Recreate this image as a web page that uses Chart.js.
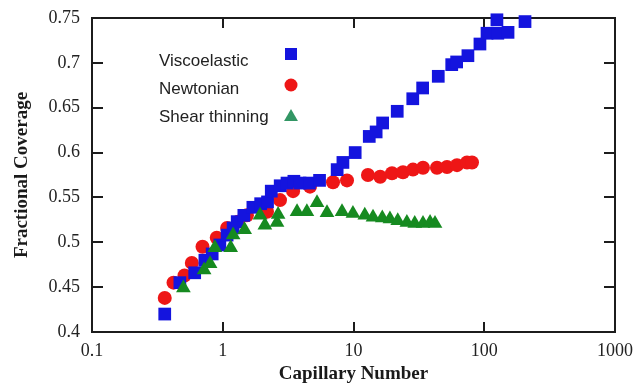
<!DOCTYPE html>
<html>
<head>
<meta charset="utf-8">
<script src="https://cdn.jsdelivr.net/npm/chart.js@4/dist/chart.umd.min.js"></script>
<style>
  html, body { margin: 0; padding: 0; background: #ffffff; }
  #wrap { width: 634px; height: 385px; }
</style>
</head>
<body>
<div id="wrap"><canvas id="c" width="634" height="385"></canvas></div>
<script>
// ---- data ----
const seriesNames = ['Viscoelastic', 'Newtonian', 'Shear thinning'];

const viscoCa  = [0.36, 0.47, 0.61, 0.73, 0.83, 0.95, 1.08, 1.2, 1.29, 1.45, 1.7, 1.95, 2.2, 2.35, 2.75, 3.1, 3.5, 3.9, 4.6, 5.5, 7.5, 8.3, 10.3, 13.2, 14.9, 16.7, 21.6, 28.4, 33.8, 44.5, 56.4, 61.5, 75, 92.7, 105, 127, 152, 125, 205];
const viscoCov = [0.42, 0.455, 0.466, 0.48, 0.487, 0.497, 0.508, 0.516, 0.523, 0.53, 0.539, 0.543, 0.545, 0.557, 0.563, 0.566, 0.568, 0.566, 0.566, 0.569, 0.581, 0.589, 0.6, 0.618, 0.623, 0.633, 0.646, 0.66, 0.672, 0.685, 0.698, 0.701, 0.708, 0.721, 0.733, 0.733, 0.734, 0.748, 0.746];

const newtCa  = [0.36, 0.42, 0.51, 0.58, 0.70, 0.90, 1.08, 1.31, 1.53, 2.18, 2.74, 3.45, 4.65, 6.97, 8.92, 12.9, 16.0, 19.7, 23.9, 28.5, 34.0, 43.5, 51.9, 61.9, 73.8, 80.6];
const newtCov = [0.438, 0.455, 0.463, 0.477, 0.495, 0.505, 0.516, 0.523, 0.53, 0.534, 0.547, 0.557, 0.562, 0.567, 0.569, 0.575, 0.573, 0.577, 0.578, 0.581, 0.583, 0.583, 0.584, 0.586, 0.589, 0.589];

const shearCa  = [0.50, 0.72, 0.80, 0.87, 1.15, 1.20, 1.47, 1.93, 2.10, 2.60, 2.65, 3.70, 4.40, 5.26, 6.27, 8.17, 9.9, 12.2, 14.1, 16.6, 19.0, 21.8, 25.6, 29.4, 34.0, 38.5, 42];
const shearCov = [0.449, 0.469, 0.476, 0.494, 0.494, 0.508, 0.514, 0.530, 0.519, 0.522, 0.531, 0.534, 0.534, 0.544, 0.533, 0.534, 0.532, 0.530, 0.528, 0.527, 0.526, 0.524, 0.522, 0.521, 0.521, 0.522, 0.521];

const xTicks = [0.1, 1, 10, 100, 1000];
const xTickLabels = ['0.1', '1', '10', '100', '1000'];
const yTicks = [0.4, 0.45, 0.5, 0.55, 0.6, 0.65, 0.7, 0.75];
const yTickLabels = ['0.4', '0.45', '0.5', '0.55', '0.6', '0.65', '0.7', '0.75'];

// ---- helpers ----
const pairs = (xs, ys) => xs.map((v, i) => ({ x: v, y: ys[i] }));

const BLUE = 'rgb(20,20,222)';
const RED = 'rgb(238,22,22)';
const GREEN = 'rgb(22,138,32)';
const AXIS = '#1c1c1c';
const SERIF = '"Liberation Serif", "Times New Roman", serif';

function drawMarker(ctx, style, x, y, r, color) {
  ctx.save();
  ctx.fillStyle = color;
  ctx.beginPath();
  if (style === 'rect') {
    const s = r * Math.SQRT1_2;
    ctx.rect(x - s, y - s, 2 * s, 2 * s);
  } else if (style === 'circle') {
    ctx.arc(x, y, r, 0, Math.PI * 2);
  } else if (style === 'triangle') {
    ctx.moveTo(x, y - r);
    ctx.lineTo(x + r * Math.sin(Math.PI / 3), y + r * 0.5);
    ctx.lineTo(x - r * Math.sin(Math.PI / 3), y + r * 0.5);
    ctx.closePath();
  }
  ctx.fill();
  ctx.restore();
}

const framePlugin = {
  id: 'frame',
  beforeDatasetsDraw(chart) {
    const { ctx, chartArea: a, scales } = chart;
    const x = scales.x, y = scales.y;
    ctx.save();
    ctx.strokeStyle = AXIS;
    ctx.lineWidth = 2;
    ctx.strokeRect(a.left, a.top, a.right - a.left, a.bottom - a.top);
    ctx.beginPath();
    xTicks.forEach(v => {
      const px = Math.round(x.getPixelForValue(v));
      ctx.moveTo(px, a.bottom); ctx.lineTo(px, a.bottom - 10);
      ctx.moveTo(px, a.top); ctx.lineTo(px, a.top + 10);
    });
    yTicks.forEach(v => {
      const py = Math.round(y.getPixelForValue(v));
      ctx.moveTo(a.left, py); ctx.lineTo(a.left + 11, py);
      ctx.moveTo(a.right, py); ctx.lineTo(a.right - 11, py);
    });
    ctx.stroke();
    ctx.restore();
  }
};

const legendPlugin = {
  id: 'insideLegend',
  afterDatasetsDraw(chart) {
    const { ctx } = chart;
    const textY = [61, 89, 117];
    const markY = [54, 85, 117];
    ctx.save();
    ctx.font = '17px "Liberation Sans", Arial, sans-serif';
    ctx.textAlign = 'left';
    ctx.textBaseline = 'middle';
    chart.data.datasets.forEach((ds, i) => {
      ctx.fillStyle = '#222';
      ctx.fillText(ds.label, 159, textY[i]);
      const r = ds.pointStyle === 'rect' ? 8.5 : (ds.pointStyle === 'circle' ? 6.5 : 8);
      drawMarker(ctx, ds.pointStyle, 291, markY[i], r, ds.legendColor || ds.backgroundColor);
    });
    ctx.restore();
  }
};

new Chart(document.getElementById('c'), {
  type: 'scatter',
  data: {
    datasets: [
      {
        label: seriesNames[0],
        data: pairs(viscoCa, viscoCov),
        pointStyle: 'rect',
        pointRadius: 9,
        backgroundColor: BLUE,
        borderWidth: 0,
        order: 2,
        clip: false
      },
      {
        label: seriesNames[1],
        data: pairs(newtCa, newtCov),
        pointStyle: 'circle',
        pointRadius: 7,
        backgroundColor: RED,
        borderWidth: 0,
        order: 3,
        clip: false
      },
      {
        label: seriesNames[2],
        data: pairs(shearCa, shearCov),
        pointStyle: 'triangle',
        pointRadius: 8.5,
        backgroundColor: GREEN,
        legendColor: 'rgb(50,150,100)',
        borderWidth: 0,
        order: 1,
        clip: false
      }
    ]
  },
  options: {
    responsive: false,
    animation: false,
    devicePixelRatio: 1,
    layout: { padding: { top: 18, right: 19, bottom: 0, left: 0 } },
    plugins: {
      legend: { display: false },
      tooltip: { enabled: false }
    },
    scales: {
      x: {
        type: 'logarithmic',
        min: 0.1,
        max: 1000,
        afterBuildTicks: s => { s.ticks = xTicks.map(v => ({ value: v })); },
        afterFit: s => { s.height = 53; s.paddingLeft = 0; s.paddingRight = 0; },
        grid: { display: false, drawTicks: false },
        border: { display: false },
        ticks: {
          callback: (v, i) => xTickLabels[i],
          font: { family: SERIF, size: 18 },
          color: '#222',
          padding: 8,
          maxRotation: 0,
          autoSkip: false
        },
        title: {
          display: true,
          text: 'Capillary Number',
          font: { family: SERIF, size: 19, weight: 'bold' },
          color: '#1a1a1a',
          padding: { top: 0, bottom: 0 }
        }
      },
      y: {
        type: 'linear',
        min: 0.4,
        max: 0.75,
        afterBuildTicks: s => { s.ticks = yTicks.map(v => ({ value: v })); },
        afterFit: s => { s.width = 92; s.paddingTop = 0; s.paddingBottom = 0; },
        grid: { display: false, drawTicks: false },
        border: { display: false },
        ticks: {
          callback: (v, i) => yTickLabels[i],
          font: { family: SERIF, size: 18 },
          color: '#222',
          padding: 12
        },
        title: {
          display: true,
          text: 'Fractional Coverage',
          font: { family: SERIF, size: 19, weight: 'bold' },
          color: '#1a1a1a',
          padding: { top: 11, bottom: 0 }
        }
      }
    }
  },
  plugins: [framePlugin, legendPlugin]
});
</script>
</body>
</html>
